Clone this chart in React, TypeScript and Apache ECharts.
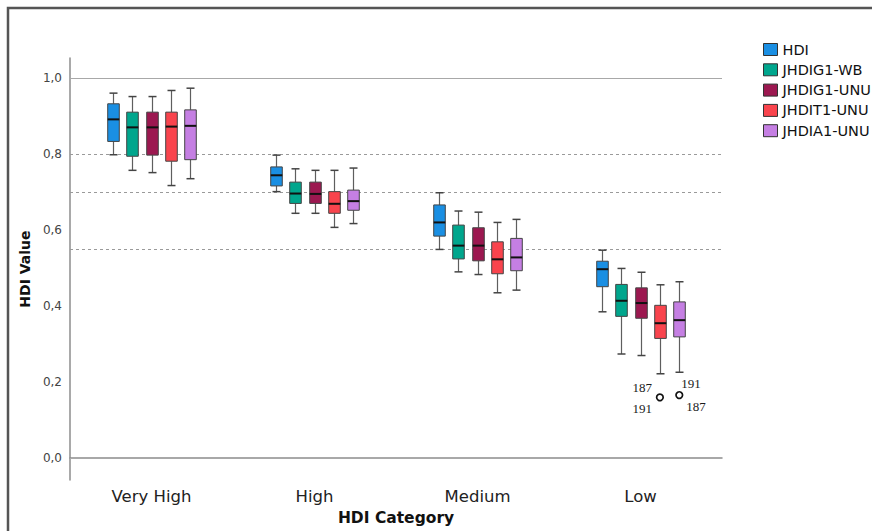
import React, { useEffect, useRef } from "react";
import * as echarts from "echarts";

const categories = ["Very High", "High", "Medium", "Low"];
const seriesNames = ["HDI", "JHDIG1-WB", "JHDIG1-UNU", "JHDIT1-UNU", "JHDIA1-UNU"];
const seriesColors = ["#1a8fe3", "#00a68d", "#9c1850", "#f9444d", "#c57fe3"];

// [min, q1, median, q3, max] per category
const hdi = [
  [0.798, 0.833, 0.891, 0.932, 0.96],
  [0.701, 0.716, 0.744, 0.766, 0.797],
  [0.549, 0.584, 0.62, 0.666, 0.698],
  [0.385, 0.451, 0.497, 0.518, 0.547],
];
const jhdig1Wb = [
  [0.757, 0.794, 0.87, 0.91, 0.951],
  [0.644, 0.67, 0.696, 0.726, 0.761],
  [0.49, 0.524, 0.559, 0.613, 0.65],
  [0.274, 0.373, 0.414, 0.457, 0.499],
];
const jhdig1Unu = [
  [0.751, 0.797, 0.87, 0.91, 0.951],
  [0.644, 0.67, 0.695, 0.726, 0.757],
  [0.483, 0.519, 0.559, 0.606, 0.647],
  [0.27, 0.368, 0.408, 0.448, 0.489],
];
const jhdit1Unu = [
  [0.717, 0.781, 0.872, 0.91, 0.967],
  [0.607, 0.644, 0.669, 0.701, 0.757],
  [0.435, 0.485, 0.523, 0.569, 0.62],
  [0.222, 0.315, 0.355, 0.402, 0.456],
];
const jhdia1Unu = [
  [0.735, 0.785, 0.874, 0.916, 0.973],
  [0.617, 0.652, 0.676, 0.705, 0.763],
  [0.442, 0.493, 0.528, 0.578, 0.628],
  [0.226, 0.319, 0.363, 0.411, 0.464],
];
const seriesData = [hdi, jhdig1Wb, jhdig1Unu, jhdit1Unu, jhdia1Unu];

// outliers: [categoryIndex, seriesIndex, value]
const outliers = [
  [3, 3, 0.16],
  [3, 4, 0.166],
];
const outlierCaseLabels = [
  ["187", "191"],
  ["191", "187"],
];

const yTicks = [0, 0.2, 0.4, 0.6, 0.8, 1.0];
const solidRefLines = [0, 1.0];
const dashedRefLines = [0.8, 0.7, 0.55];

// layout for outlier labels (style only)
const outlierLabelLayout = [
  [
    { dx: -8, dy: -10, align: "right" },
    { dx: -8, dy: 11, align: "right" },
  ],
  [
    { dx: 2, dy: -12, align: "left" },
    { dx: 7, dy: 11, align: "left" },
  ],
];

const SLOT = 0.119; // fraction of band between neighbouring boxes
const BOXW = 0.071; // fraction of band for box width

export default function App() {
  const ref = useRef<HTMLDivElement>(null);
  useEffect(() => {
    if (!ref.current) return;
    const chart = echarts.init(ref.current, null, { renderer: "svg" });

    const boxSeries = seriesNames.map((name, si) => ({
      type: "custom",
      name,
      itemStyle: { color: seriesColors[si] },
      encode: { x: 0, y: [1, 2, 3, 4, 5] },
      data: seriesData[si].map((d, ci) => [ci, ...d]),
      z: 3,
      renderItem: (params: any, api: any) => {
        const cat = api.value(0);
        const band = api.size([1, 0])[0];
        const off = (si - 2) * band * SLOT;
        const bw = band * BOXW;
        const pMin = api.coord([cat, api.value(1)]);
        const pQ1 = api.coord([cat, api.value(2)]);
        const pMed = api.coord([cat, api.value(3)]);
        const pQ3 = api.coord([cat, api.value(4)]);
        const pMax = api.coord([cat, api.value(5)]);
        const cx = Math.round(pMin[0] + off) + 0.5;
        const capW = 4;
        const whisk = { stroke: "#5e5e5e", lineWidth: 1.2 };
        return {
          type: "group",
          children: [
            { type: "line", shape: { x1: cx, y1: pMax[1], x2: cx, y2: pQ3[1] }, style: whisk },
            { type: "line", shape: { x1: cx, y1: pQ1[1], x2: cx, y2: pMin[1] }, style: whisk },
            { type: "line", shape: { x1: cx - capW, y1: pMax[1], x2: cx + capW, y2: pMax[1] }, style: { stroke: "#444", lineWidth: 1.5 } },
            { type: "line", shape: { x1: cx - capW, y1: pMin[1], x2: cx + capW, y2: pMin[1] }, style: { stroke: "#444", lineWidth: 1.5 } },
            {
              type: "rect",
              shape: { x: cx - bw / 2, y: pQ3[1], width: bw, height: pQ1[1] - pQ3[1] },
              style: { fill: seriesColors[si], stroke: "#444", lineWidth: 1 },
            },
            {
              type: "line",
              shape: { x1: cx - bw / 2, y1: pMed[1], x2: cx + bw / 2, y2: pMed[1] },
              style: { stroke: "#111", lineWidth: 2 },
            },
          ],
        };
      },
    }));

    const outlierSeries = {
      type: "custom",
      name: "outliers",
      encode: { x: 0, y: 2 },
      data: outliers,
      z: 4,
      silent: true,
      renderItem: (params: any, api: any) => {
        const idx = params.dataIndex;
        const cat = api.value(0);
        const si = api.value(1);
        const band = api.size([1, 0])[0];
        const off = (si - 2) * band * SLOT;
        const p = api.coord([cat, api.value(2)]);
        const cx = p[0] + off;
        const cy = p[1];
        const labels = outlierCaseLabels[idx];
        const lay = outlierLabelLayout[idx];
        return {
          type: "group",
          children: [
            {
              type: "circle",
              shape: { cx, cy, r: 3.3 },
              style: { fill: "#fff", stroke: "#111", lineWidth: 1.7 },
            },
            ...labels.map((t, k) => ({
              type: "text",
              x: cx + lay[k].dx,
              y: cy + lay[k].dy,
              style: {
                text: t,
                fill: "#1a1a1a",
                fontFamily: "Liberation Serif",
                fontSize: 13,
                align: lay[k].align,
                verticalAlign: "middle",
              },
            })),
          ],
        };
      },
    };

    const refSeries = {
      type: "line",
      name: "ref",
      data: [],
      silent: true,
      markLine: {
        silent: true,
        symbol: "none",
        z: 1,
        label: { show: false },
        data: [
          ...solidRefLines.map((v) => ({
            yAxis: v,
            lineStyle: { color: "#a8a8a8", width: 1.2, type: "solid" },
          })),
          ...dashedRefLines.map((v) => ({
            yAxis: v,
            lineStyle: { color: "#9a9a9a", width: 1, type: [3, 3] },
          })),
        ],
      },
    };

    chart.setOption({
      animation: false,
      backgroundColor: "#ffffff",
      grid: { left: 70, right: 150, top: 58, bottom: 49, containLabel: false },
      legend: {
        data: seriesNames,
        orient: "vertical",
        left: 758,
        top: 37,
        padding: 5,
        itemWidth: 14,
        itemHeight: 12,
        itemGap: 5.3,
        icon: "rect",
        itemStyle: { borderColor: "#333", borderWidth: 1 },
        textStyle: { fontSize: 14.5, color: "#111", fontFamily: "DejaVu Sans", lineHeight: 12 },
        selectedMode: false,
      },
      xAxis: {
        type: "category",
        data: categories,
        boundaryGap: true,
        axisLine: { show: true, lineStyle: { color: "#8c8c8c", width: 1.5 } },
        axisTick: { show: false },
        axisLabel: { fontSize: 16.5, color: "#222", margin: 8, fontFamily: "DejaVu Sans" },
        splitLine: { show: false },
        name: "HDI Category",
        nameLocation: "middle",
        nameGap: 29,
        nameTextStyle: { fontSize: 15.5, fontWeight: "bold", color: "#111", fontFamily: "DejaVu Sans" },
      },
      yAxis: {
        type: "value",
        min: -0.0576,
        max: 1.0524,
        axisLine: { show: true, lineStyle: { color: "#8c8c8c", width: 1.5 } },
        axisTick: { show: false },
        splitLine: { show: false },
        axisLabel: {
          customValues: yTicks,
          fontSize: 12,
          color: "#444",
          margin: 8,
          fontFamily: "DejaVu Sans",
          formatter: (v: number) => v.toFixed(1).replace(".", ","),
        },
        name: "HDI Value",
        nameLocation: "middle",
        nameGap: 23,
        nameTextStyle: { fontSize: 14, fontWeight: "bold", color: "#111", fontFamily: "DejaVu Sans" },
      },
      graphic: [
        {
          type: "rect",
          shape: { x: 8, y: 8, width: 900, height: 600 },
          style: { fill: "none", stroke: "#555", lineWidth: 2.5 },
          silent: true,
        },
      ],
      series: [refSeries, ...boxSeries, outlierSeries],
    });
    return () => chart.dispose();
  }, []);
  return (
    <div
      ref={ref}
      style={{ position: "fixed", left: 0, top: 0, width: 872, height: 531 }}
    />
  );
}
